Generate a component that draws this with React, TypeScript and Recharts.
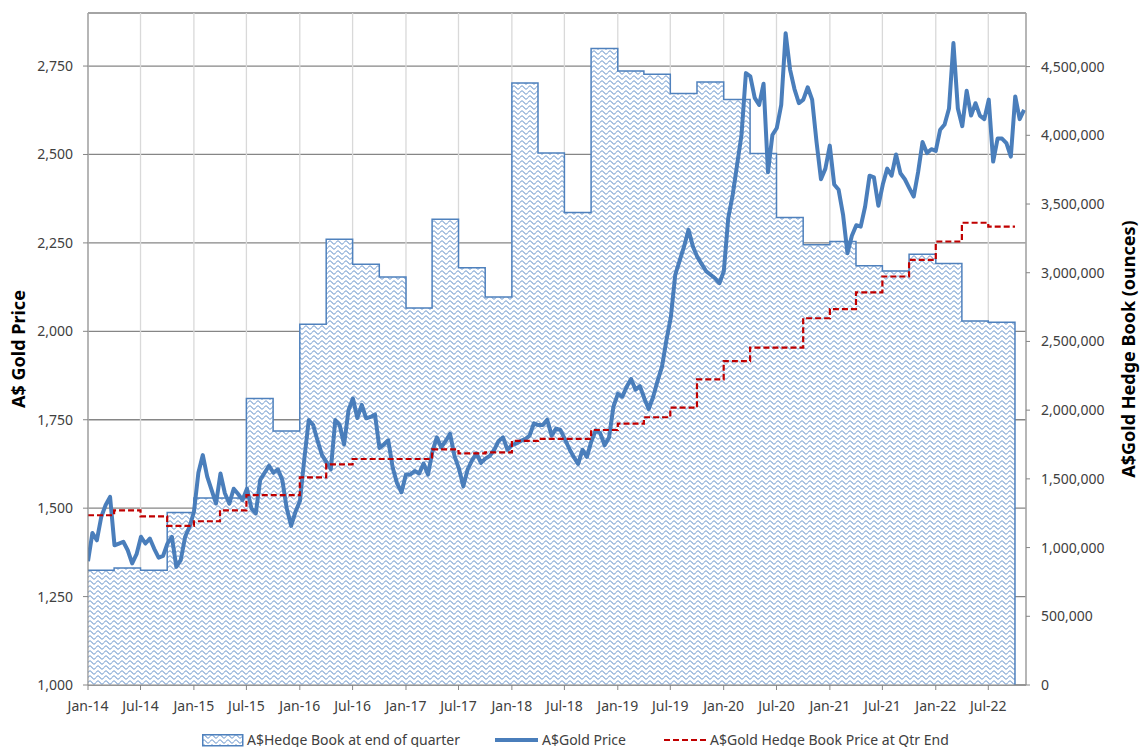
import React from "react";
import { ComposedChart, Area, Line, XAxis, YAxis, CartesianGrid } from "recharts";

// quarter labels, hedge book ounces at end of each quarter and hedge book price (A$/oz)
const quarters = [
  "Q1-14", "Q2-14", "Q3-14", "Q4-14",
  "Q1-15", "Q2-15", "Q3-15", "Q4-15",
  "Q1-16", "Q2-16", "Q3-16", "Q4-16",
  "Q1-17", "Q2-17", "Q3-17", "Q4-17",
  "Q1-18", "Q2-18", "Q3-18", "Q4-18",
  "Q1-19", "Q2-19", "Q3-19", "Q4-19",
  "Q1-20", "Q2-20", "Q3-20", "Q4-20",
  "Q1-21", "Q2-21", "Q3-21", "Q4-21",
  "Q1-22", "Q2-22", "Q3-22",
];

const hedgeBookOunces = [
  835000, 851000, 835000, 1255000,
  1361000, 1361000, 2084000, 1848000,
  2625000, 3243000, 3062000, 2969000,
  2743000, 3389000, 3037000, 2823000,
  4381000, 3871000, 3438000, 4631000,
  4468000, 4444000, 4305000, 4387000,
  4260000, 3867000, 3401000, 3203000,
  3228000, 3050000, 3012000, 3134000,
  3068000, 2649000, 2639000,
];

const hedgeBookPrice = [
  1480, 1494, 1477, 1450,
  1463, 1494, 1537, 1537,
  1587, 1624, 1639, 1639,
  1639, 1666, 1655, 1658,
  1690, 1696, 1696, 1721,
  1739, 1757, 1784, 1864,
  1916, 1954, 1954, 2037,
  2063, 2110, 2155, 2202,
  2254, 2307, 2296,
];

// A$ spot gold, sampled twice a month from Jan-14
const goldPrice = [
  1350, 1430, 1409, 1475, 1509, 1532, 1395, 1400, 1405, 1381, 1344, 1370,
  1419, 1400, 1414, 1385, 1360, 1365, 1400, 1419, 1334, 1353, 1419, 1447,
  1490, 1600, 1650, 1589, 1551, 1513, 1598, 1542, 1513, 1555, 1540, 1523,
  1555, 1500, 1485, 1580, 1600, 1620, 1600, 1610, 1580, 1500, 1450, 1490,
  1520, 1640, 1749, 1735, 1690, 1650, 1630, 1610, 1749, 1735, 1680, 1777,
  1810, 1755, 1792, 1754, 1758, 1765, 1670, 1680, 1692, 1615, 1570, 1545,
  1595, 1595, 1605, 1598, 1626, 1595, 1660, 1700, 1672, 1690, 1710, 1648,
  1612, 1562, 1610, 1636, 1655, 1628, 1640, 1648, 1665, 1690, 1700, 1665,
  1678, 1683, 1690, 1695, 1705, 1740, 1735, 1735, 1750, 1705, 1725, 1721,
  1695, 1668, 1645, 1625, 1665, 1645, 1689, 1720, 1712, 1678, 1700, 1787,
  1823, 1815, 1843, 1865, 1835, 1845, 1810, 1780, 1815, 1860, 1900, 1975,
  2040, 2160, 2200, 2240, 2287, 2240, 2210, 2190, 2170, 2160, 2150, 2136,
  2170, 2320, 2385, 2470, 2555, 2730, 2721, 2660, 2640, 2700, 2450, 2555,
  2575, 2640, 2843, 2740, 2685, 2645, 2655, 2690, 2655, 2535, 2430, 2460,
  2525, 2415, 2400, 2330, 2221, 2270, 2300, 2296, 2353, 2440, 2435, 2355,
  2415, 2460, 2440, 2500, 2447, 2430, 2405, 2381, 2450, 2535, 2504, 2515,
  2510, 2570, 2585, 2630, 2815, 2630, 2580, 2680, 2610, 2645, 2610, 2600,
  2655, 2480, 2545, 2545, 2532, 2494, 2664, 2600, 2626,
];

const xTickLabels = [
  "Jan-14", "Jul-14", "Jan-15", "Jul-15", "Jan-16", "Jul-16", "Jan-17", "Jul-17", "Jan-18",
  "Jul-18", "Jan-19", "Jul-19", "Jan-20", "Jul-20", "Jan-21", "Jul-21", "Jan-22", "Jul-22",
];
const priceTicks = [1000, 1250, 1500, 1750, 2000, 2250, 2500, 2750];
const ounceTicks = [0, 500000, 1000000, 1500000, 2000000, 2500000, 3000000, 3500000, 4000000, 4500000];

const DAY = 86400000;
const START = Date.UTC(2014, 0, 1);
const END = Date.UTC(2022, 10, 8);
const MONTH_IDX: Record<string, number> = { Jan: 0, Apr: 3, Jul: 6, Oct: 9 };

const quarterStart = (q: string) => Date.UTC(2000 + Number(q.slice(3)), (Number(q[1]) - 1) * 3, 1);
const quarterEnd = (q: string) => Date.UTC(2000 + Number(q.slice(3)), Number(q[1]) * 3, 1);
const labelToTime = (s: string) => Date.UTC(2000 + Number(s.slice(4)), MONTH_IDX[s.slice(0, 3)], 1);

const lastQ = quarters[quarters.length - 1];
const hedgeData = quarters.map((q, i) => ({ t: quarterStart(q), ounces: hedgeBookOunces[i] }));
hedgeData.push({ t: quarterEnd(lastQ), ounces: hedgeBookOunces[hedgeBookOunces.length - 1] });
hedgeData.push({ t: quarterEnd(lastQ), ounces: 0 });

const hedgePriceData = quarters.map((q, i) => ({ t: quarterStart(q), hedgePrice: hedgeBookPrice[i] }));
hedgePriceData.push({ t: quarterEnd(lastQ), hedgePrice: hedgeBookPrice[hedgeBookPrice.length - 1] });

const goldData = goldPrice.map((p, i) => ({ t: START + i * (365.25 / 24) * DAY, price: p }));

const xTicks = xTickLabels.map(labelToTime);
const tickName: Record<number, string> = {};
xTickLabels.forEach((l, i) => (tickName[xTicks[i]] = l));

const FONT = "'Noto Sans', sans-serif";
const AXIS = "#868686";
const BLUE = "#4A7EBB";
const RED = "#C00000";
const tickStyle = { fontSize: 14, fill: "#404040", fontFamily: FONT };

const fmt = (v: number) => v.toLocaleString("en-US");

const WavePattern = ({ id }: { id: string }) => (
  <pattern id={id} patternUnits="userSpaceOnUse" width={8} height={5}>
    <rect width={8} height={5} fill="#ffffff" />
    <path d="M0 2.5 C1 0.5 3 0.5 4 2.5 C5 4.5 7 4.5 8 2.5" fill="none" stroke="#5486C6" strokeWidth={1} />
  </pattern>
);

const legendText: React.CSSProperties = {
  position: "absolute",
  top: 731,
  fontSize: 14,
  lineHeight: "18px",
  color: "#404040",
  fontFamily: FONT,
  whiteSpace: "nowrap",
};

const App = () => {
  return (
    <div style={{ position: "absolute", left: 0, top: 0, width: 1140, height: 747, background: "#fff" }}>
      <ComposedChart
        width={1140}
        height={747}
        margin={{ top: 13, right: 0, left: 0, bottom: 22 }}
        style={{ fontFamily: FONT }}
      >
        <defs>
          <WavePattern id="hedgeWave" />
        </defs>
        <CartesianGrid yAxisId="left" vertical={false} stroke={AXIS} strokeWidth={1.3} />
        <CartesianGrid yAxisId="left" horizontal={false} stroke="#D9D9D9" strokeWidth={1.3} />
        <XAxis
          dataKey="t"
          type="number"
          scale="time"
          domain={[START, END]}
          ticks={xTicks}
          tickFormatter={(v: number) => tickName[v] ?? ""}
          allowDataOverflow
          height={40}
          tick={tickStyle}
          tickSize={5}
          tickMargin={11}
          stroke={AXIS}
          interval={0}
        />
        <YAxis
          yAxisId="left"
          domain={[1000, 2900]}
          ticks={priceTicks}
          tickFormatter={fmt}
          width={88}
          tick={tickStyle}
          tickSize={5}
          tickMargin={10}
          stroke={AXIS}
          allowDataOverflow
          label={{
            value: "A$ Gold Price",
            angle: -90,
            position: "insideLeft",
            offset: 19,
            style: { textAnchor: "middle", fontSize: 18, fontWeight: 700, fill: "#000", fontFamily: FONT },
          }}
        />
        <YAxis
          yAxisId="right"
          orientation="right"
          domain={[0, 4890000]}
          ticks={ounceTicks}
          tickFormatter={fmt}
          width={114}
          tick={tickStyle}
          tickSize={4}
          tickMargin={11}
          stroke={AXIS}
          allowDataOverflow
          label={{
            value: "A$Gold Hedge Book (ounces)",
            angle: -90,
            position: "insideRight",
            offset: 11,
            style: { textAnchor: "middle", fontSize: 18, fontWeight: 700, fill: "#000", fontFamily: FONT },
          }}
        />
        <Area
          data={hedgeData}
          yAxisId="right"
          dataKey="ounces"
          type="stepAfter"
          fill="url(#hedgeWave)"
          fillOpacity={1}
          stroke="#4F81BD"
          strokeWidth={1.5}
          isAnimationActive={false}
        />
        <Line
          data={goldData}
          yAxisId="left"
          dataKey="price"
          type="linear"
          stroke={BLUE}
          strokeWidth={4}
          strokeLinejoin="round"
          dot={false}
          activeDot={false}
          isAnimationActive={false}
        />
        <Line
          data={hedgePriceData}
          yAxisId="left"
          dataKey="hedgePrice"
          type="stepAfter"
          stroke={RED}
          strokeWidth={2.2}
          strokeDasharray="6 3"
          dot={false}
          activeDot={false}
          isAnimationActive={false}
        />
      </ComposedChart>

      <svg style={{ position: "absolute", left: 202, top: 734 }} width={42} height={13}>
        <defs>
          <WavePattern id="legendWave" />
        </defs>
        <rect x={0.75} y={0.75} width={40} height={11} fill="url(#legendWave)" stroke="#4F81BD" strokeWidth={1.5} />
      </svg>
      <span style={{ ...legendText, left: 247 }}>A$Hedge Book at end of quarter</span>

      <svg style={{ position: "absolute", left: 495, top: 734 }} width={44} height={12}>
        <line x1={0} y1={6} x2={43} y2={6} stroke={BLUE} strokeWidth={4} />
      </svg>
      <span style={{ ...legendText, left: 542 }}>A$Gold Price</span>

      <svg style={{ position: "absolute", left: 664, top: 734 }} width={44} height={12}>
        <line x1={0} y1={6} x2={43} y2={6} stroke={RED} strokeWidth={2.2} strokeDasharray="6 3" />
      </svg>
      <span style={{ ...legendText, left: 710 }}>A$Gold Hedge Book Price at Qtr End</span>
    </div>
  );
};

export default App;
